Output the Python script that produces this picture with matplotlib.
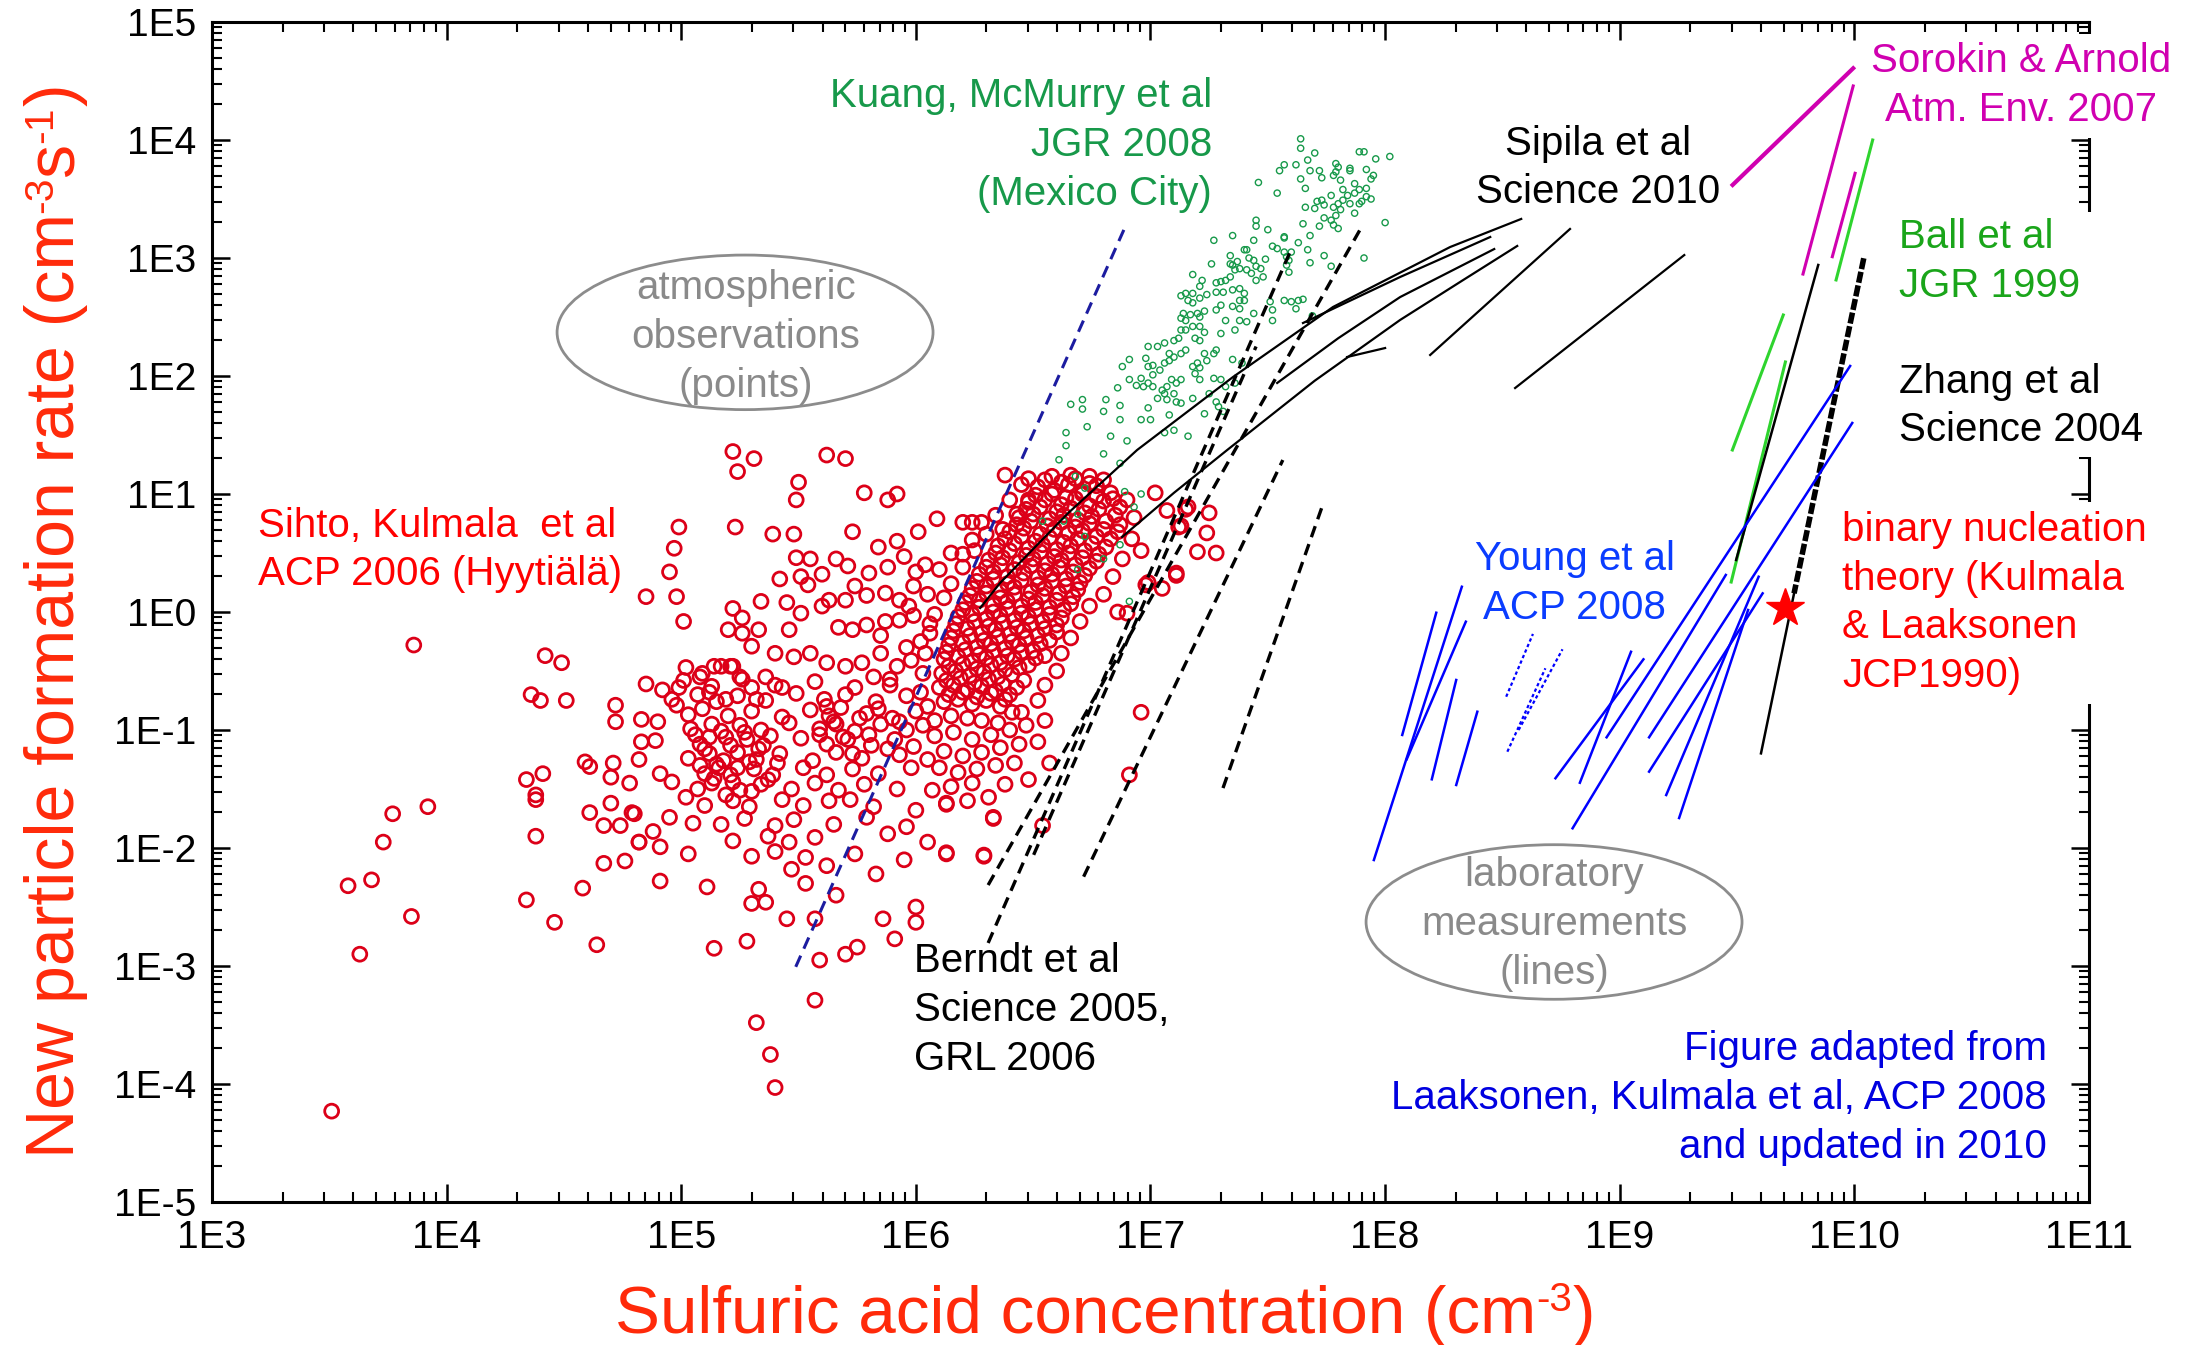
import numpy as np
import matplotlib
matplotlib.use('Agg')
import matplotlib.pyplot as plt
from matplotlib.patches import Ellipse, Rectangle
from matplotlib.ticker import LogLocator, NullFormatter

plt.rcParams['font.family'] = ['Liberation Sans', 'DejaVu Sans']

# all values are log10(H2SO4 cm-3), log10(J cm-3 s-1)

# Sihto, Kulmala et al 2006 (Hyytiala), atmospheric points
sihto_pts = [
    (3.51, -4.23), (3.77, -1.71), (3.73, -1.95), (3.68, -2.27), (3.58, -2.32), (3.85, -2.58),
    (3.63, -2.90), (3.92, -1.65), (3.86, -0.28),
    (4.38, -1.59), (4.38, -1.90), (4.34, -2.44), (4.46, -2.63), (4.58, -2.34), (4.64, -2.82),
    (4.61, -1.70), (4.67, -1.81), (4.67, -2.13), (4.76, -2.11), (4.74, -1.81), (4.80, -1.71),
    (4.82, -1.95), (4.91, -1.99), (4.91, -2.28), (5.03, -2.05), (5.14, -2.85), (5.28, -2.79),
    (5.11, -2.33), (5.32, -3.48), (5.38, -3.75), (5.40, -4.03), (5.57, -3.29), (5.59, -2.95),
    (5.45, -2.60), (5.57, -2.60), (5.70, -2.90), (5.75, -2.84), (5.86, -2.60), (5.91, -2.77),
    (6.00, -2.50), (6.00, -2.63), (6.13, -2.05), (6.13, -1.63), (6.29, -2.07), (6.33, -1.75),
    (5.30, -2.47), (5.36, -2.46), (5.33, -2.35),
    (4.42, -0.37), (4.49, -0.43), (4.36, -0.70), (4.40, -0.75), (4.51, -0.75), (4.72, -0.79),
    (4.72, -0.93), (4.85, 0.13), (4.98, 0.13), (5.01, -0.08), (4.95, 0.34), (4.97, 0.54),
    (4.99, 0.72), (5.22, 1.36), (5.24, 1.19), (5.23, 0.72), (5.22, 0.03), (5.26, -0.05),
    (5.20, -0.15), (4.85, -0.61), (4.92, -0.66), (5.02, -0.47), (5.09, -0.52), (4.99, -0.64),
    (4.98, -0.79), (5.17, -0.46), (5.22, -0.46), (4.83, -0.91), (4.90, -0.93), (4.83, -1.10),
    (4.89, -1.09), (4.82, -1.25), (4.59, -1.27), (4.61, -1.31), (4.71, -1.28), (4.70, -1.40),
    (4.78, -1.45), (4.91, -1.37), (4.96, -1.44), (4.41, -1.37), (4.34, -1.42), (4.38, -1.55),
    (4.70, -1.62), (4.79, -1.70), (5.02, -1.57), (4.95, -1.74), (5.05, -1.79), (4.88, -1.86),
    (4.82, -1.95),
    (5.31, 1.30), (5.62, 1.33), (5.70, 1.30), (5.50, 1.10), (5.49, 0.95), (5.78, 1.01),
    (5.88, 0.95), (5.92, 1.00), (5.39, 0.66), (5.48, 0.66), (5.73, 0.68), (5.92, 0.60),
    (6.01, 0.68), (6.09, 0.79), (6.20, 0.76), (6.24, 0.76), (6.28, 0.76), (5.95, 0.47),
    (5.71, 0.39), (5.80, 0.33), (6.15, 0.50), (6.20, 0.49), (6.10, 0.36), (6.24, 0.61),
    (6.38, 1.16), (6.48, 1.13), (6.48, 0.95), (6.43, 0.83), (6.37, 0.70), (5.49, 0.46),
    (5.55, 0.45), (5.42, 0.28), (5.34, 0.09), (5.26, -0.18), (5.33, -0.15), (5.30, -0.29),
    (5.45, 0.08), (5.51, -0.01), (5.46, -0.15), (5.51, 0.30), (5.54, 0.23), (5.60, 0.05),
    (5.63, 0.10), (5.70, 0.10), (5.74, 0.22), (5.79, 0.14), (5.67, -0.13), (5.73, -0.15),
    (5.79, -0.11), (5.87, 0.16), (5.93, 0.10), (5.99, 0.22), (6.00, 0.34), (5.93, -0.07),
    (5.99, -0.03), (5.40, -0.35), (5.48, -0.38), (5.55, -0.35), (5.62, -0.43), (5.70, -0.46),
    (5.77, -0.43), (5.85, -0.35), (5.92, -0.46), (5.98, -0.41), (5.08, -0.55), (5.14, -0.46),
    (5.21, -0.46), (5.25, -0.55), (5.30, -0.64), (5.36, -0.55), (5.43, -0.64), (5.12, -0.68),
    (5.19, -0.74), (5.32, -0.74),
    (5.72, -1.59), (5.79, -1.74), (5.88, -1.88), (5.96, -1.82), (6.00, -1.68), (6.07, -1.51),
    (6.13, -1.62),
    (6.96, 0.52), (6.98, 0.23), (7.05, 0.20), (7.11, 0.31), (7.15, 0.87), (7.13, 0.73),
    (6.96, -0.85), (6.91, -1.38), (6.54, -1.81), (6.33, -1.74), (6.86, 0.00),
    (7.25, 0.84), (7.24, 0.67), (7.20, 0.51), (7.16, 0.89), (7.12, 0.72), (7.07, 0.86),
    (7.02, 1.01), (7.28, 0.50), (7.11, 0.33), (6.99, 0.25), (6.90, -0.01), (6.13, -2.04),
    (6.29, -2.06),
    (5.60, 0.32), (5.66, 0.45), (5.84, 0.55), (5.88, 0.38), (5.97, 0.05), (6.05, 0.15),
    (6.06, -0.10), (6.04, 0.40), (5.85, -0.20), (5.87, -0.08), (6.02, -0.25), (5.96, -0.30),
    (5.82, -0.55), (5.89, -0.62),
    # dense core
    (6.52, 1.06), (6.59, 1.03), (6.65, 1.08), (6.71, 1.02), (6.77, 1.07), (6.83, 1.01),
    (6.48, 0.93), (6.55, 0.95), (6.62, 0.91), (6.68, 0.96), (6.74, 0.90), (6.80, 0.94), (6.87, 0.89),
    (6.44, 0.80), (6.50, 0.83), (6.57, 0.79), (6.63, 0.82), (6.69, 0.78), (6.75, 0.81), (6.81, 0.77),
    (6.87, 0.74), (6.40, 0.68), (6.46, 0.71), (6.53, 0.66), (6.59, 0.70), (6.65, 0.67), (6.71, 0.69),
    (6.77, 0.64), (6.83, 0.62), (6.35, 0.56), (6.42, 0.58), (6.48, 0.54), (6.54, 0.57), (6.60, 0.53),
    (6.66, 0.56), (6.72, 0.52), (6.78, 0.49), (6.31, 0.44), (6.37, 0.46), (6.44, 0.42), (6.50, 0.45),
    (6.56, 0.41), (6.62, 0.44), (6.68, 0.40), (6.74, 0.37), (6.27, 0.32), (6.33, 0.34), (6.39, 0.30),
    (6.46, 0.33), (6.52, 0.29), (6.58, 0.32), (6.64, 0.28), (6.70, 0.25), (6.24, 0.20), (6.30, 0.22),
    (6.36, 0.18), (6.42, 0.21), (6.49, 0.17), (6.55, 0.20), (6.61, 0.16), (6.67, 0.13), (6.21, 0.08),
    (6.27, 0.10), (6.33, 0.06), (6.39, 0.09), (6.45, 0.05), (6.51, 0.08), (6.57, 0.04), (6.63, 0.02),
    (6.18, -0.04), (6.24, -0.02), (6.30, -0.06), (6.36, -0.03), (6.42, -0.07), (6.48, -0.04),
    (6.54, -0.08), (6.60, -0.11), (6.16, -0.16), (6.22, -0.14), (6.28, -0.18), (6.34, -0.15),
    (6.40, -0.19), (6.46, -0.16), (6.52, -0.20), (6.57, -0.24), (6.14, -0.28), (6.20, -0.26),
    (6.26, -0.30), (6.32, -0.27), (6.38, -0.31), (6.44, -0.28), (6.50, -0.33), (6.55, -0.37),
    (6.12, -0.40), (6.18, -0.38), (6.24, -0.42), (6.30, -0.39), (6.36, -0.43), (6.42, -0.40),
    (6.48, -0.45), (6.11, -0.52), (6.17, -0.50), (6.23, -0.54), (6.29, -0.51), (6.35, -0.55),
    (6.41, -0.53), (6.46, -0.58), (6.10, -0.64), (6.16, -0.62), (6.22, -0.66), (6.28, -0.63),
    (6.34, -0.67), (6.40, -0.70), (6.12, -0.76), (6.18, -0.74), (6.24, -0.78), (6.30, -0.75),
    (6.36, -0.80),
    (6.55, 1.12), (6.62, 1.10), (6.68, 1.13), (6.74, 1.09), (6.80, 1.12),
    (6.51, 0.99), (6.58, 1.00), (6.64, 0.97), (6.71, 1.00), (6.77, 0.98), (6.84, 0.96),
    (6.47, 0.87), (6.53, 0.89), (6.60, 0.85), (6.66, 0.88), (6.72, 0.84), (6.78, 0.87), (6.85, 0.82),
    (6.43, 0.74), (6.49, 0.77), (6.56, 0.73), (6.62, 0.76), (6.68, 0.72), (6.74, 0.75), (6.80, 0.70),
    (6.86, 0.68), (6.38, 0.62), (6.45, 0.64), (6.51, 0.60), (6.57, 0.63), (6.63, 0.59), (6.69, 0.62),
    (6.75, 0.58), (6.81, 0.55), (6.34, 0.50), (6.40, 0.52), (6.47, 0.48), (6.53, 0.51), (6.59, 0.47),
    (6.65, 0.50), (6.71, 0.46), (6.77, 0.43), (6.30, 0.38), (6.36, 0.40), (6.42, 0.36), (6.49, 0.39),
    (6.55, 0.35), (6.61, 0.38), (6.67, 0.34), (6.72, 0.31), (6.26, 0.26), (6.33, 0.28), (6.39, 0.24),
    (6.45, 0.27), (6.52, 0.23), (6.58, 0.26), (6.64, 0.22), (6.69, 0.19), (6.23, 0.14), (6.30, 0.16),
    (6.36, 0.12), (6.42, 0.15), (6.48, 0.11), (6.54, 0.14), (6.60, 0.10), (6.66, 0.07), (6.20, 0.02),
    (6.27, 0.04), (6.33, 0.00), (6.39, 0.03), (6.45, -0.01), (6.51, 0.02), (6.57, -0.02), (6.62, -0.05),
    (6.17, -0.10), (6.25, -0.08), (6.31, -0.12), (6.37, -0.09), (6.43, -0.13), (6.49, -0.10),
    (6.55, -0.14), (6.60, -0.17), (6.15, -0.22), (6.23, -0.20), (6.29, -0.24), (6.35, -0.21),
    (6.41, -0.25), (6.47, -0.22), (6.53, -0.27), (6.13, -0.34), (6.21, -0.32), (6.27, -0.36),
    (6.33, -0.33), (6.39, -0.37), (6.45, -0.34), (6.51, -0.39), (6.14, -0.46), (6.20, -0.44),
    (6.26, -0.48), (6.32, -0.45), (6.38, -0.49), (6.44, -0.47), (6.13, -0.58), (6.19, -0.56),
    (6.25, -0.60), (6.31, -0.57), (6.37, -0.61), (6.43, -0.64), (6.14, -0.70), (6.20, -0.68),
    (6.26, -0.72), (6.32, -0.69), (6.38, -0.74),
    # core fringe
    (6.90, 0.95), (6.93, 0.80), (6.92, 0.62), (6.88, 0.45), (6.84, 0.30), (6.80, 0.15),
    (6.74, 0.05), (6.70, -0.08), (6.66, -0.22), (6.62, -0.35), (6.60, -0.50), (6.55, -0.62),
    (6.52, -0.75), (6.45, -0.85), (6.58, 1.15), (6.66, 1.16), (6.74, 1.15), (6.45, 1.08),
    (6.40, 0.95), (6.34, 0.82), (6.30, 0.66), (6.25, 0.52), (6.20, 0.38), (6.15, 0.24),
    (6.12, 0.12), (6.08, -0.02), (6.06, -0.18), (6.04, -0.35), (6.03, -0.52), (6.02, -0.68),
    (6.05, -0.80), (6.08, -0.92), (6.15, -0.88), (6.22, -0.90), (6.28, -0.92), (6.35, -0.94),
    (6.41, -0.85),
    (6.08, -1.05), (6.16, -1.02), (6.24, -1.08), (6.32, -1.04), (6.40, -1.00), (6.47, -0.96),
    (6.55, -0.92), (6.12, -1.18), (6.20, -1.22), (6.28, -1.19), (6.36, -1.15), (6.44, -1.12),
    (6.52, -1.10), (6.10, -1.32), (6.18, -1.36), (6.26, -1.33), (6.34, -1.30), (6.42, -1.28),
    (6.15, -1.48), (6.24, -1.45), (6.38, -1.46), (6.48, -1.42), (6.57, -1.28), (6.22, -1.60),
    (6.31, -1.57),
    # lower-left lobe
    (5.01, -0.58), (5.13, -0.63), (5.26, -0.57), (5.40, -0.62), (5.57, -0.59), (5.74, -0.64),
    (5.89, -0.57), (4.96, -0.74), (5.07, -0.70), (5.15, -0.76), (5.24, -0.71), (5.36, -0.75),
    (5.49, -0.69), (5.61, -0.74), (5.70, -0.70), (5.83, -0.76), (5.96, -0.71),
    (5.03, -0.87), (5.09, -0.82), (5.20, -0.88), (5.30, -0.84), (5.43, -0.89), (5.55, -0.83),
    (5.63, -0.88), (5.68, -0.81), (5.79, -0.86), (5.90, -0.90), (6.00, -0.84),
    (5.04, -0.99), (5.13, -0.95), (5.17, -1.01), (5.25, -0.96), (5.34, -1.00), (5.46, -0.94),
    (5.59, -0.99), (5.65, -0.93), (5.74, -1.01), (5.85, -0.95), (5.96, -1.00), (6.03, -0.96),
    (5.08, -1.12), (5.12, -1.06), (5.21, -1.13), (5.28, -1.08), (5.35, -1.13), (5.51, -1.07),
    (5.62, -1.12), (5.69, -1.06), (5.81, -1.13), (5.91, -1.08), (5.99, -1.14),
    (5.03, -1.24), (5.12, -1.20), (5.18, -1.26), (5.24, -1.19), (5.32, -1.25), (5.42, -1.20),
    (5.56, -1.26), (5.66, -1.19), (5.77, -1.24), (5.93, -1.21), (6.05, -1.25),
    (5.10, -1.37), (5.16, -1.32), (5.21, -1.38), (5.31, -1.33), (5.39, -1.38), (5.52, -1.32),
    (5.62, -1.38), (5.73, -1.33), (5.84, -1.37), (5.98, -1.32),
    (5.07, -1.50), (5.13, -1.45), (5.25, -1.51), (5.34, -1.46), (5.47, -1.50), (5.57, -1.45),
    (5.67, -1.51), (5.78, -1.46), (5.92, -1.50),
    (5.10, -1.64), (5.22, -1.60), (5.29, -1.65), (5.43, -1.59), (5.52, -1.64), (5.63, -1.60),
    (5.82, -1.65), (5.17, -1.80), (5.27, -1.75), (5.40, -1.81), (5.48, -1.76), (5.65, -1.80),
    (5.22, -1.94), (5.37, -1.90), (5.46, -1.95), (5.57, -1.91), (5.30, -2.07), (5.40, -2.03),
    (5.53, -2.08), (5.53, -2.30), (5.62, -2.15), (5.74, -2.05), (5.47, -2.18), (5.66, -2.40),
    (5.83, -2.22), (5.95, -2.10), (6.05, -1.95),
    (5.06, -1.04), (5.10, -1.16), (5.15, -1.29), (5.19, -1.06), (5.22, -1.44), (5.27, -1.02),
    (5.29, -1.27), (5.33, -1.16), (5.37, -1.42), (5.14, -1.41), (5.08, -1.30), (5.24, -1.32),
    (5.38, -1.05), (5.41, -1.28), (5.19, -1.55), (5.30, -1.52),
    (5.62, -0.80), (5.66, -0.95), (5.71, -1.08), (5.76, -0.90), (5.80, -1.04), (5.84, -0.82),
    (5.88, -1.16), (5.73, -1.20), (5.59, -1.04), (5.93, -0.93),
]

# Kuang, McMurry et al 2008 (Mexico City), atmospheric points
kuang_pts = [
    (7.64, 4.01), (7.64, 3.93), (7.70, 3.89), (7.67, 3.83), (7.89, 3.90), (7.91, 3.90),
    (7.96, 3.84), (8.02, 3.86), (7.57, 3.79), (7.55, 3.74), (7.62, 3.79), (7.68, 3.74),
    (7.72, 3.74), (7.73, 3.68), (7.64, 3.67), (7.66, 3.59), (7.46, 3.64), (7.54, 3.55),
    (7.79, 3.80), (7.80, 3.77), (7.79, 3.73), (7.85, 3.76), (7.85, 3.74), (7.92, 3.75),
    (7.95, 3.70), (7.94, 3.67), (7.78, 3.70), (7.81, 3.66), (7.87, 3.63), (7.77, 3.53),
    (7.82, 3.58), (7.84, 3.53), (7.87, 3.55), (7.89, 3.58), (7.92, 3.59), (7.92, 3.52),
    (7.94, 3.50), (7.90, 3.48), (7.89, 3.46), (7.87, 3.38), (7.85, 3.46), (7.82, 3.49),
    (7.80, 3.46), (7.78, 3.43), (7.81, 3.41), (7.79, 3.36), (7.77, 3.32), (7.78, 3.28),
    (7.80, 3.25), (7.74, 3.45), (7.70, 3.42), (7.71, 3.48), (7.73, 3.49), (7.66, 3.43),
    (7.74, 3.34), (7.72, 3.27), (7.68, 3.19), (7.65, 3.29), (8.00, 3.30), (7.91, 3.00),
    (7.74, 3.02), (7.77, 2.93), (7.68, 2.96), (7.67, 3.07),
    (7.45, 3.32), (7.45, 3.27), (7.50, 3.24), (7.44, 3.15), (7.35, 3.19), (7.27, 3.15),
    (7.57, 3.18), (7.57, 3.17), (7.52, 3.10), (7.54, 3.08), (7.57, 3.05), (7.58, 3.01),
    (7.59, 2.98), (7.58, 2.94), (7.59, 2.88), (7.60, 3.05), (7.63, 3.13), (7.49, 2.99),
    (7.34, 3.02), (7.34, 2.95), (7.35, 2.94), (7.37, 2.97), (7.40, 3.07), (7.41, 3.07),
    (7.42, 3.00), (7.44, 2.98), (7.45, 2.93), (7.47, 2.91), (7.48, 2.84), (7.45, 2.81),
    (7.43, 2.87), (7.41, 2.90), (7.38, 2.91), (7.36, 2.90), (7.34, 2.84), (7.32, 2.81),
    (7.30, 2.80), (7.28, 2.79), (7.26, 2.95), (7.18, 2.86), (7.22, 2.81), (7.21, 2.76),
    (7.18, 2.70), (7.15, 2.70), (7.13, 2.68), (7.16, 2.64), (7.18, 2.62), (7.21, 2.66),
    (7.24, 2.69), (7.28, 2.71), (7.31, 2.71), (7.35, 2.73), (7.38, 2.74), (7.40, 2.70),
    (7.38, 2.64), (7.40, 2.64), (7.35, 2.59), (7.38, 2.57), (7.30, 2.60), (7.28, 2.56),
    (7.23, 2.55), (7.21, 2.50), (7.20, 2.53), (7.17, 2.52), (7.14, 2.53), (7.13, 2.49),
    (7.15, 2.47), (7.18, 2.42), (7.21, 2.42), (7.23, 2.37), (7.19, 2.32), (7.15, 2.39),
    (7.13, 2.39), (7.12, 2.32), (7.10, 2.30), (7.06, 2.28), (7.03, 2.25), (6.99, 2.25),
    (7.44, 2.53), (7.51, 2.63), (7.52, 2.56), (7.52, 2.47), (7.57, 2.64), (7.60, 2.63),
    (7.62, 2.57), (7.63, 2.64), (7.65, 2.65), (7.69, 2.51), (7.32, 2.47), (7.38, 2.47),
    (7.41, 2.46), (7.36, 2.39), (7.30, 2.36), (7.28, 2.22), (7.27, 2.19), (7.35, 2.14),
    (7.39, 2.11), (7.21, 2.30), (7.23, 2.19), (7.24, 2.13), (7.20, 2.11), (7.18, 2.08),
    (7.21, 2.07), (7.19, 2.02), (7.21, 1.97), (7.15, 2.22), (7.13, 2.19), (7.10, 2.16),
    (7.08, 2.19), (7.08, 2.13), (7.06, 2.11), (7.04, 2.05), (7.01, 2.09), (6.99, 2.08),
    (6.98, 2.15), (6.91, 2.14), (6.88, 2.08), (7.01, 2.01), (6.96, 1.98), (6.91, 1.97),
    (6.94, 1.92), (6.97, 1.91), (6.99, 1.94), (7.01, 1.91), (7.05, 1.88), (7.07, 1.91),
    (7.09, 1.97), (7.11, 1.94), (7.13, 1.97), (7.10, 1.85), (7.06, 1.85), (7.03, 1.81),
    (7.07, 1.80), (7.11, 1.78), (7.13, 1.77), (7.18, 1.81), (7.25, 1.85), (7.28, 1.78),
    (7.29, 1.74), (7.31, 1.70), (7.27, 1.98), (7.30, 1.97), (7.32, 1.91), (7.36, 1.94),
    (6.86, 1.90), (6.81, 1.80), (6.87, 1.75), (6.71, 1.80), (6.66, 1.76), (6.71, 1.72),
    (6.80, 1.70), (6.99, 1.73), (7.08, 1.67), (7.23, 1.68), (6.87, 1.63), (6.96, 1.63),
    (7.00, 1.63), (7.06, 1.52), (7.10, 1.54), (7.16, 1.49), (6.73, 1.57), (6.64, 1.52),
    (6.64, 1.41), (6.83, 1.49), (6.90, 1.45), (6.80, 1.34), (6.61, 1.29), (6.87, 1.26),
    (6.68, 1.15), (6.72, 1.05), (6.89, 1.02), (6.96, 1.00), (6.93, 0.89), (6.63, 0.77),
    (6.54, 0.77), (6.69, 0.83), (6.72, 0.64), (6.87, 0.57), (6.80, 0.45), (6.69, 0.36),
    (6.91, 0.09),
]

# unlabelled blue dashed line
blue_dash = [(5.488, -3.007), (6.893, 3.268)]

# Berndt et al 2005 / 2006
berndt_lines = [
    [(6.308, -2.805), (7.604, 3.093)],
    [(6.308, -2.314), (7.902, 3.271)],
    [(6.502, -2.058), (7.450, 2.250)],
    [(6.715, -2.243), (7.564, 1.288)],
    [(7.309, -1.492), (7.731, 0.890)],
]

# Sipila et al 2010
sipila_lines = [
    [(6.274, 0.034), (6.359, 0.246), (6.650, 0.840), (6.943, 1.373), (7.352, 1.992),
     (7.778, 2.585), (8.277, 3.093), (8.580, 3.331)],
    [(6.879, 0.636), (7.100, 1.010), (7.327, 1.373), (7.700, 1.960), (8.064, 2.475),
     (8.330, 2.810), (8.563, 3.102)],
    [(7.540, 1.941), (7.800, 2.320), (8.064, 2.669), (8.465, 3.076)],
    [(7.650, 2.449), (8.064, 2.839), (8.448, 3.178)],
    [(7.838, 2.161), (8.000, 2.237)],
    [(8.192, 2.178), (8.788, 3.246)],
    [(8.554, 1.898), (9.275, 3.025)],
]

# Sorokin & Arnold 2007
sorokin_lines = [
    [(9.481, 3.619), (9.995, 4.608)],
    [(9.995, 4.458), (9.781, 2.864)],
    [(10.003, 3.718), (9.906, 3.011)],
]

# Ball et al 1999
ball_lines = [
    [(10.078, 4.000), (9.922, 2.814)],
    [(9.697, 2.517), (9.480, 1.373)],
    [(9.706, 2.119), (9.475, 0.254)],
]

# Zhang et al 2004
zhang_thick = [(10.040, 2.998), (9.743, 0.158)]
zhang_thin = [
    [(9.743, 0.158), (9.602, -1.198)],
    [(9.846, 2.941), (9.496, 0.441)],
]

# Young et al 2008
young_lines = [
    [(7.952, -2.102), (8.327, 0.214)],
    [(8.073, -1.042), (8.218, -0.006)],
    [(8.092, -1.248), (8.344, -0.082)],
    [(8.199, -1.418), (8.303, -0.576)],
    [(8.303, -1.466), (8.393, -0.845)],
    [(8.726, -1.409), (9.101, -0.401)],
    [(8.830, -1.447), (9.048, -0.337)],
    [(8.944, -1.062), (9.982, 2.085)],
    [(9.125, -1.062), (9.991, 1.602)],
    [(8.799, -1.833), (9.452, 0.314)],
    [(9.125, -1.353), (9.609, 0.158)],
    [(9.198, -1.551), (9.592, 0.299)],
    [(9.253, -1.746), (9.547, 0.017)],
]
young_dotted = [
    [(8.516, -0.718), (8.630, -0.186)],
    [(8.521, -1.184), (8.683, -0.477)],
    [(8.569, -1.000), (8.756, -0.316)],
]

# binary nucleation theory point
kulmala_star = (9.705, 0.034)

x_decades = list(range(3, 12))
y_decades = list(range(-5, 6))

RED_MARK = '#dc0018'
GREEN_MARK = '#17994a'
LABEL_RED = '#ff2a0a'


def xy(pts):
    a = np.array(pts, dtype=float)
    return 10 ** a[:, 0], 10 ** a[:, 1]


fig = plt.figure(figsize=(21.9, 13.45), dpi=100)
ax = fig.add_axes([0.0968, 0.10632, 0.85708, 0.87732])
ax.set_xscale('log')
ax.set_yscale('log')
ax.set_xlim(1e3, 1e11)
ax.set_ylim(1e-5, 1e5)

sx, sy = xy(sihto_pts)
ax.scatter(sx, sy, s=100, facecolors='none', edgecolors=RED_MARK, linewidths=2.0, zorder=1)
kx, ky = xy(kuang_pts)
ax.scatter(kx, ky, s=20, facecolors='none', edgecolors=GREEN_MARK, linewidths=1.0, zorder=1.5)

bx, by = xy(blue_dash)
ax.plot(bx, by, color='#1c1ca0', lw=2.2, dashes=(4, 2.5), zorder=2)

for ln in berndt_lines:
    lx, ly = xy(ln)
    ax.plot(lx, ly, color='black', lw=2.4, dashes=(3.5, 2.2), zorder=2)
for ln in sipila_lines:
    lx, ly = xy(ln)
    ax.plot(lx, ly, color='black', lw=1.6, zorder=2)
for i, ln in enumerate(sorokin_lines):
    lx, ly = xy(ln)
    ax.plot(lx, ly, color='#d000b0', lw=3.0 if i == 0 else 2.2, zorder=2)
for ln in ball_lines:
    lx, ly = xy(ln)
    ax.plot(lx, ly, color='#2ed42e', lw=2.2, zorder=2)
zx_, zy_ = xy(zhang_thick)
ax.plot(zx_, zy_, color='black', lw=4.0, dashes=(2.0, 0.5), zorder=2)
for ln in zhang_thin:
    lx, ly = xy(ln)
    ax.plot(lx, ly, color='black', lw=1.8, zorder=2)
for ln in young_lines:
    lx, ly = xy(ln)
    ax.plot(lx, ly, color='#0000ff', lw=1.8, zorder=2)
for ln in young_dotted:
    lx, ly = xy(ln)
    ax.plot(lx, ly, color='#0000ff', lw=1.6, dashes=(1.5, 1.2), zorder=2)

ax.plot(10 ** kulmala_star[0], 10 ** kulmala_star[1], marker='*', ms=29, color='#ff0000',
        mec='#ff0000', zorder=4)

# grey ellipses
ax.add_patch(Ellipse((0.284, 0.737), 0.2003, 0.131, transform=ax.transAxes, fill=False,
                     edgecolor='#8c8c8c', lw=2, zorder=3))
ax.add_patch(Ellipse((0.715, 0.2373), 0.2003, 0.131, transform=ax.transAxes, fill=False,
                     edgecolor='#8c8c8c', lw=2, zorder=3))
# white backing behind the right-hand labels, hides the right spine there
ax.add_patch(Rectangle((0.985, 0.631), 0.03, 0.208, transform=ax.transAxes,
                       facecolor='white', edgecolor='none', clip_on=False, zorder=2.8))

FS = 29
tk = dict(transform=ax.transAxes, fontsize=FS, zorder=5, linespacing=1.36)
ax.text(0.2845, 0.733, 'atmospheric\nobservations\n(points)', color='#8a8a8a', ha='center',
        va='center', **tk)
ax.text(0.715, 0.2356, 'laboratory\nmeasurements\n(lines)', color='#8a8a8a', ha='center',
        va='center', **tk)
ax.text(0.5328, 0.8958, 'Kuang, McMurry et al\nJGR 2008\n(Mexico City)', color='#17994a',
        ha='right', va='center', multialignment='right', **tk)
ax.text(0.7384, 0.8763, 'Sipila et al\nScience 2010', color='black', ha='center', va='center',
        **tk)
ax.text(0.9638, 0.946, 'Sorokin & Arnold\nAtm. Env. 2007', color='#d000b0', ha='center',
        va='center', bbox=dict(facecolor='white', edgecolor='none', pad=6), **tk)
ax.text(0.8986, 0.797, 'Ball et al\nJGR 1999', color='#1aa51a', ha='left', va='center', **tk)
ax.text(0.8986, 0.6746, 'Zhang et al\nScience 2004', color='black', ha='left', va='center', **tk)
ax.text(0.8684, 0.5076, 'binary nucleation\ntheory (Kulmala\n& Laaksonen\nJCP1990)',
        color='#ff0000', ha='left', va='center',
        bbox=dict(facecolor='white', edgecolor='none', pad=6), **tk)
ax.text(0.726, 0.524, 'Young et al\nACP 2008', color='#0a3cff', ha='center', va='center', **tk)
ax.text(0.2183, 0.5525, 'Sihto, Kulmala  et al\nACP 2006 (Hyyti\u00e4l\u00e4)', color='#ff0000',
        ha='right', va='center', multialignment='left', **tk)
ax.text(0.374, 0.1627, 'Berndt et al\nScience 2005,\nGRL 2006', color='black', ha='left',
        va='center', **tk)
ax.text(0.9776, 0.0881, 'Figure adapted from\nLaaksonen, Kulmala et al, ACP 2008\nand updated in 2010',
        color='#0000e0', ha='right', va='center', multialignment='right', **tk)

# axes styling
ax.set_xticks([10.0 ** k for k in x_decades])
ax.set_xticklabels(['1E%d' % k for k in x_decades])
ax.set_yticks([10.0 ** k for k in y_decades])
ax.set_yticklabels(['1E%d' % k for k in y_decades])
for axis in (ax.xaxis, ax.yaxis):
    axis.set_minor_locator(LogLocator(base=10, subs=np.arange(2, 10), numticks=100))
    axis.set_minor_formatter(NullFormatter())
ax.tick_params(which='both', direction='in', top=True, right=True, colors='black')
ax.tick_params(which='major', length=13, width=1.8, labelsize=28)
ax.tick_params(which='minor', length=7, width=1.5)
ax.tick_params(axis='x', which='major', pad=13)
ax.tick_params(axis='y', which='major', pad=11)
for sp in ax.spines.values():
    sp.set_linewidth(2.2)


def sup_label(parts, x, y, size, vertical=False):
    # axis title with small raised "-3" style exponents, laid out piece by piece
    r = fig.canvas.get_renderer()
    W, H = fig.bbox.width, fig.bbox.height
    arts, lens = [], []
    for s, sup in parts:
        t = fig.text(0, 0, s, fontsize=size * 0.6 if sup else size, color=LABEL_RED,
                     rotation=90 if vertical else 0, rotation_mode='anchor',
                     ha='left', va='baseline')
        bb = t.get_window_extent(r)
        arts.append(t)
        lens.append(bb.height if vertical else bb.width)
    pos = -sum(lens) / 2
    rise = size * 0.32 * fig.dpi / 72
    for t, n, (s, sup) in zip(arts, lens, parts):
        up = rise if sup else 0
        if vertical:
            t.set_position((x - up / W, y + pos / H))
        else:
            t.set_position((x + pos / W, y + up / H))
        pos += n


sup_label([('Sulfuric acid concentration (cm', False), ('-3', True), (')', False)],
          1105 / 2190, 1 - 1333 / 1345, 48.5)
sup_label([('New particle formation rate (cm', False), ('-3', True), ('s', False),
           ('-1', True), (')', False)],
          74 / 2190, 1 - 621 / 1345, 49, vertical=True)

fig.savefig('out.png', dpi=100)
